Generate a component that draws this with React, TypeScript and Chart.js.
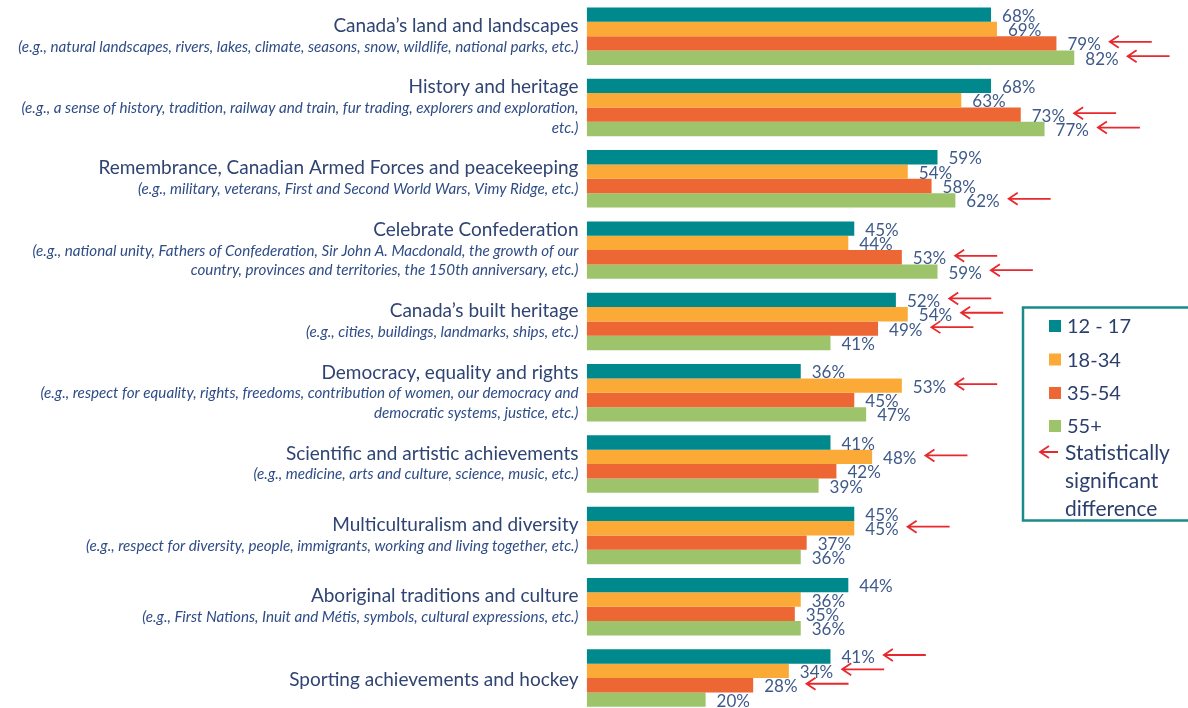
import React, { useEffect, useRef } from "react";
import { Chart, registerables } from "chart.js";

Chart.register(...registerables);

const categories = [
  "Canada\u2019s land and landscapes",
  "History and heritage",
  "Remembrance, Canadian Armed Forces and peacekeeping",
  "Celebrate Confederation",
  "Canada\u2019s built heritage",
  "Democracy, equality and rights",
  "Scientific and artistic achievements",
  "Multiculturalism and diversity",
  "Aboriginal traditions and culture",
  "Sporting achievements and hockey",
];

const examples: string[][] = [
  ["(e.g., natural landscapes, rivers, lakes, climate, seasons, snow, wildlife, national parks, etc.)"],
  ["(e.g., a sense of history, tradition, railway and train, fur trading, explorers and exploration,", "etc.)"],
  ["(e.g., military, veterans, First and Second World Wars, Vimy Ridge, etc.)"],
  ["(e.g., national unity, Fathers of Confederation, Sir John A. Macdonald, the growth of our", "country, provinces and territories, the 150th anniversary, etc.)"],
  ["(e.g., cities, buildings, landmarks, ships, etc.)"],
  ["(e.g., respect for equality, rights, freedoms, contribution of women, our democracy and", "democratic systems, justice, etc.)"],
  ["(e.g., medicine, arts and culture, science, music, etc.)"],
  ["(e.g., respect for diversity, people, immigrants, working and living together, etc.)"],
  ["(e.g., First Nations, Inuit and M\u00e9tis, symbols, cultural expressions, etc.)"],
  [],
];

const seriesNames = ["12 - 17", "18-34", "35-54", "55+"];
const age12to17 = [68, 68, 59, 45, 52, 36, 41, 45, 44, 41];
const age18to34 = [69, 63, 54, 44, 54, 53, 48, 45, 36, 34];
const age35to54 = [79, 73, 58, 53, 49, 45, 42, 37, 35, 28];
const age55plus = [82, 77, 62, 59, 41, 47, 39, 36, 36, 20];

// 1 = statistically significant difference (red arrow)
const sig12to17 = [0, 0, 0, 0, 1, 0, 0, 0, 0, 1];
const sig18to34 = [0, 0, 0, 0, 1, 1, 1, 1, 0, 1];
const sig35to54 = [1, 1, 0, 1, 1, 0, 0, 0, 0, 1];
const sig55plus = [1, 1, 1, 1, 0, 0, 0, 0, 0, 0];

const seriesValues = [age12to17, age18to34, age35to54, age55plus];
const seriesSig = [sig12to17, sig18to34, sig35to54, sig55plus];
const colors = ["#00898C", "#FBAA38", "#EC6733", "#9DC46B"];

const legendLabel = ["Statistically", "significant", "difference"];

const RED = "#E8282C";

function drawArrow(ctx: CanvasRenderingContext2D, x0: number, x1: number, y: number) {
  ctx.save();
  ctx.strokeStyle = RED;
  ctx.lineWidth = 1.8;
  ctx.beginPath();
  ctx.moveTo(x1, y);
  ctx.lineTo(x0, y);
  ctx.moveTo(x0 + 9, y - 6);
  ctx.lineTo(x0, y);
  ctx.lineTo(x0 + 9, y + 6);
  ctx.stroke();
  ctx.restore();
}

const overlayPlugin = {
  id: "overlay",
  afterDatasetsDraw(chart: any) {
    const ctx: CanvasRenderingContext2D = chart.ctx;
    ctx.save();
    // value labels + arrows
    ctx.font = "17px Lato";
    ctx.textBaseline = "middle";
    ctx.textAlign = "left";
    chart.data.datasets.forEach((ds: any, d: number) => {
      const meta = chart.getDatasetMeta(d);
      meta.data.forEach((bar: any, i: number) => {
        const txt = ds.data[i] + "%";
        const x = bar.x + 11;
        ctx.fillStyle = "#3F5A8A";
        ctx.fillText(txt, x, bar.y + 1.5);
        if (seriesSig[d][i]) {
          const w = ctx.measureText(txt).width;
          const ax = x + w + 9;
          drawArrow(ctx, ax, ax + 42, bar.y - 1.5);
        }
      });
    });

    // category labels
    const yScale = chart.scales.y;
    const rightX = 578.5;
    ctx.textAlign = "right";
    categories.forEach((cat, i) => {
      const c = yScale.getPixelForValue(i);
      const subs = examples[i];
      const n = subs.length;
      const span = n === 0 ? 0 : 21 + 19.5 * (n - 1);
      let y = c - span / 2 + (n === 0 ? 2 : 0);
      ctx.font = "19px Lato";
      ctx.fillStyle = "#2F4472";
      ctx.fillText(cat, rightX, y);
      y += 21;
      ctx.font = "italic 15.2px Lato";
      ctx.fillStyle = "#2E4C86";
      subs.forEach((s) => {
        ctx.fillText(s, rightX, y);
        y += 19.5;
      });
    });

    // legend box
    ctx.strokeStyle = "#1A8A8C";
    ctx.lineWidth = 2.5;
    ctx.strokeRect(1023, 307.5, 180, 213);
    ctx.textAlign = "left";
    ctx.font = "20px Lato";
    const ys = [326, 359.5, 393, 426];
    seriesNames.forEach((nm, k) => {
      ctx.fillStyle = colors[k];
      ctx.fillRect(1049, ys[k] - 6, 12, 12);
      ctx.fillStyle = "#2C3F6C";
      ctx.fillText(nm, 1067, ys[k] + 1);
    });
    drawArrow(ctx, 1040, 1058, 452);
    ctx.font = "21px Lato";
    const ly = [453, 481.5, 509.5];
    legendLabel.forEach((t, k) => {
      ctx.fillStyle = "#2C3F6C";
      ctx.fillText(t, 1065, ly[k]);
    });
    ctx.restore();
  },
};

export default function App() {
  const ref = useRef<HTMLCanvasElement | null>(null);
  useEffect(() => {
    if (!ref.current) return;
    const chart = new Chart(ref.current, {
      type: "bar",
      data: {
        labels: categories,
        datasets: seriesValues.map((vals, k) => ({
          label: seriesNames[k],
          data: vals,
          backgroundColor: colors[k],
          borderWidth: 0,
          categoryPercentage: 0.806,
          barPercentage: 1,
        })),
      },
      options: {
        indexAxis: "y",
        responsive: false,
        animation: false,
        layout: { padding: { left: 586.7, right: 6.7, top: 0.5, bottom: 2.3 } },
        scales: {
          x: { display: false, min: 0, max: 100 },
          y: { display: false },
        },
        plugins: { legend: { display: false }, tooltip: { enabled: false } },
      },
      plugins: [overlayPlugin],
    } as any);
    return () => chart.destroy();
  }, []);
  return (
    <div style={{ position: "fixed", left: 0, top: 0, width: 1188, height: 716, background: "#fff" }}>
      <canvas ref={ref} width={1188} height={716} style={{ display: "block" }} />
    </div>
  );
}
